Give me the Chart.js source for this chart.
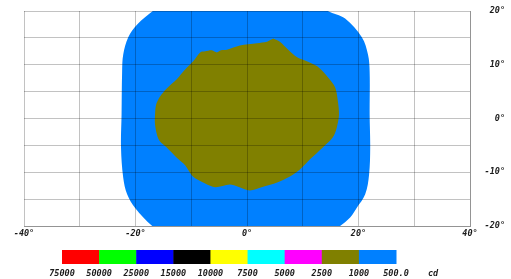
<!DOCTYPE html>
<html>
<head>
<meta charset="utf-8">
<script src="https://cdn.jsdelivr.net/npm/chart.js@4.4.1/dist/chart.umd.min.js"></script>
<style>
  html, body { margin: 0; padding: 0; background: #fff; }
  #wrap { width: 511px; height: 279px; position: relative; }
</style>
</head>
<body>
<div id="wrap"><canvas id="chart" width="511" height="279"></canvas></div>
<script>
// axis tick labels (degrees)
const xLabelValues = [-40, -20, 0, 20, 40];
const yLabelValues = [-20, -10, 0, 10, 20];

// isocandela legend
const levelLabels = ['75000', '50000', '25000', '15000', '10000', '7500', '5000', '2500', '1000', '500.0'];
const levelColors = ['#ff0000', '#00ff00', '#0000ff', '#000000', '#ffff00', '#00ffff', '#ff00ff', '#808000', '#0080ff'];
const unitLabel = 'cd';

// 500 cd zone outline (horizontal deg, vertical deg), runs past the plot edges at top and bottom
const zone500X = [-14.5, -16.9, -19.7, -21.3, -22.2, -22.4, -22.5, -22.6, -22.2, -21.5, -20.1, -17.0, -14.0,
                  14.0, 16.7, 18.5, 19.7, 21.2, 21.9, 22.1, 22.0, 22.0, 21.7, 20.6, 17.6, 14.5, 12.0];
const zone500Y = [22.0, 20.0, 17.5, 15.1, 11.9, 8.7, 0.7, -5.4, -11.0, -14.1, -16.6, -20.0, -22.0,
                  -22.0, -20.0, -18.4, -16.6, -14.1, -10.4, -5.4, 0.7, 8.7, 11.9, 15.1, 18.6, 20.0, 22.0];

// 1000 cd zone outline
const zone1000X = [4.7, 5.9, 7.4, 9.0, 10.4, 12.6, 14.4, 15.8, 16.3, 16.5, 16.1, 15.4, 13.6, 11.3, 9.5, 7.7,
                   5.4, 2.9, 0.5, -1.6, -3.1, -5.7, -7.5, -9.7, -11.1, -12.6, -14.4, -15.6, -16.1, -16.5,
                   -16.5, -16.3, -15.6, -14.4, -12.6, -11.1, -9.7, -8.4, -7.5, -6.3, -5.4, -4.7, -3.6, -1.3, 1.8, 3.6];
const zone1000Y = [14.9, 14.3, 12.8, 11.4, 10.8, 9.7, 7.8, 5.8, 3.2, 0.7, -1.7, -3.5, -5.4, -7.6, -9.5, -10.8,
                   -11.9, -12.7, -13.4, -12.7, -12.3, -12.8, -12.1, -10.8, -8.7, -7.3, -5.4, -4.3, -3.2, -1.1,
                   0.7, 2.6, 4.1, 5.6, 7.3, 9.1, 10.6, 12.3, 12.5, 12.7, 12.3, 12.7, 12.8, 13.6, 14.0, 14.3];

function toPoints(xs, ys) {
    return xs.map((x, i) => ({ x: x, y: ys[i] }));
}

const tickFont = { family: 'DejaVu Sans Mono', size: 8.5, style: 'italic', weight: 'bold' };
const gridColor = 'rgba(0,0,0,0.24)';

const colorBar = {
    id: 'colorBar',
    afterDraw(chart) {
        const ctx = chart.ctx;
        const left = 62, right = 396, top = 250, h = 14;
        const w = (right - left) / levelColors.length;
        ctx.save();
        levelColors.forEach((c, i) => {
            ctx.fillStyle = c;
            ctx.fillRect(left + i * w, top, w + 0.5, h);
        });
        ctx.font = 'italic bold 8.5px "DejaVu Sans Mono"';
        ctx.fillStyle = '#1a1a1a';
        ctx.textAlign = 'center';
        ctx.textBaseline = 'middle';
        levelLabels.forEach((t, i) => {
            ctx.fillText(t, left + i * w, 273.5);
        });
        ctx.fillText(unitLabel, 433, 273.5);
        ctx.restore();
    }
};

new Chart(document.getElementById('chart'), {
    type: 'line',
    data: {
        datasets: [{
            label: '1000 cd',
            data: toPoints(zone1000X, zone1000Y),
            backgroundColor: '#808000',
            borderWidth: 0,
            pointRadius: 0,
            fill: 'shape',
            tension: 0.3
        }, {
            label: '500 cd',
            data: toPoints(zone500X, zone500Y),
            backgroundColor: '#0080ff',
            borderWidth: 0,
            pointRadius: 0,
            fill: 'shape',
            tension: 0.35
        }]
    },
    options: {
        responsive: false,
        animation: false,
        layout: { padding: { left: 24, top: 11, right: 6, bottom: 0 } },
        plugins: {
            legend: { display: false },
            tooltip: { enabled: false }
        },
        scales: {
            x: {
                type: 'linear',
                min: -40,
                max: 40,
                grid: { color: gridColor, drawTicks: false, z: 1 },
                border: { color: gridColor, z: 1 },
                ticks: {
                    stepSize: 10,
                    autoSkip: false,
                    maxRotation: 0,
                    padding: 3,
                    font: tickFont,
                    color: '#1a1a1a',
                    callback: v => xLabelValues.includes(v) ? v + '°' : ''
                },
                afterFit: s => { s.height = 53; }
            },
            y: {
                type: 'linear',
                position: 'right',
                min: -20,
                max: 20,
                grid: { color: gridColor, drawTicks: false, z: 1 },
                border: { color: gridColor, z: 1 },
                ticks: {
                    stepSize: 5,
                    autoSkip: false,
                    crossAlign: 'far',
                    font: tickFont,
                    color: '#1a1a1a',
                    callback: v => yLabelValues.includes(v) ? v + '°' : ''
                },
                afterFit: s => { s.width = 35; }
            }
        }
    },
    plugins: [colorBar]
});
</script>
</body>
</html>
